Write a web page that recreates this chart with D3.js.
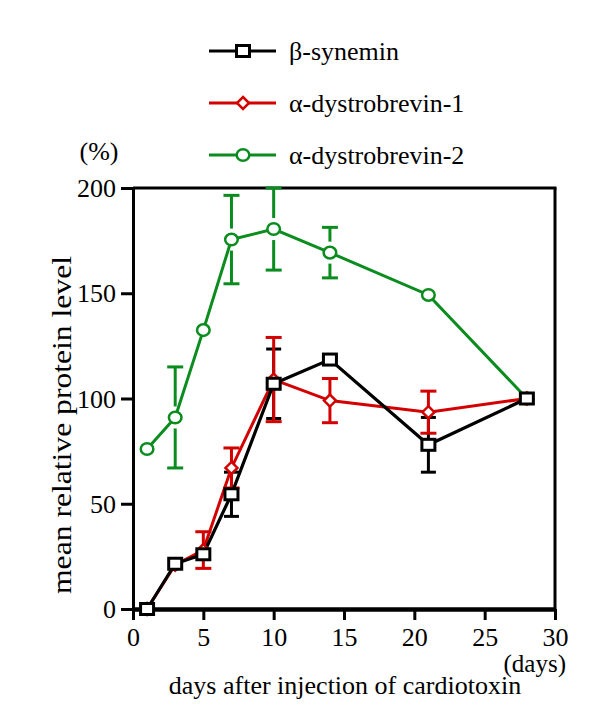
<!DOCTYPE html>
<html>
<head>
<meta charset="utf-8">
<script src="https://cdn.jsdelivr.net/npm/d3@7"></script>
<style>
  html, body { margin: 0; padding: 0; background: #fff; }
  svg { display: block; }
  svg text { font-family: "Liberation Serif", "Times New Roman", serif !important; fill: #000; }
</style>
</head>
<body>
<svg id="chart" width="600" height="717" font-family="'Liberation Serif', serif"></svg>
<script>
// ---- data ----
const days = [1, 3, 5, 7, 10, 14, 21, 28];
const synemin = [0, 21.5, 26, 54.5, 107, 118.5, 78, 100];
const syneminErr = [0, 0, 0, 10.5, 16.5, 0, 13, 0];
const dystro1 = [0, 21, 28, 67, 109, 99, 93.5, 100];
const dystro1Err = [0, 0, 8.7, 9.5, 20, 10.5, 10, 0];
const dystro2 = [76, 91, 132.5, 175.5, 180.5, 169.3, 149.2, 100];
const dystro2Err = [0, 24, 0, 21, 19.5, 12, 0, 0];
const xTicks = [0, 5, 10, 15, 20, 25, 30];
const yTicks = [0, 50, 100, 150, 200];
const seriesNames = ["β-synemin", "α-dystrobrevin-1", "α-dystrobrevin-2"];

const FONT = "'Liberation Serif', 'Times New Roman', serif";
const svg = d3.select("#chart");
const x = d3.scaleLinear().domain([0, 30]).range([133, 555]);
const y = d3.scaleLinear().domain([0, 200]).range([609, 188]);

const black = "#000000", red = "#d40000", green = "#0a8c1e";

// frame (top and right)
svg.append("line").attr("x1", x(0)).attr("x2", x(30) + 1.5).attr("y1", y(200)).attr("y2", y(200))
  .attr("stroke", "#000").attr("stroke-width", 3);
svg.append("line").attr("x1", x(30)).attr("x2", x(30)).attr("y1", y(200)).attr("y2", y(0))
  .attr("stroke", "#000").attr("stroke-width", 3);

// y axis
const yAxis = svg.append("g").attr("transform", `translate(${x(0)},0)`)
  .call(d3.axisLeft(y).tickValues(yTicks).tickSize(12).tickSizeOuter(0).tickPadding(5));
yAxis.attr("font-family", FONT).attr("font-size", 26);
yAxis.select(".domain").attr("stroke-width", 3);
yAxis.selectAll(".tick line").attr("stroke-width", 3);
yAxis.selectAll(".tick text").attr("font-family", FONT).attr("font-size", 26).attr("dy", "0.33em");

// x axis
const xAxis = svg.append("g").attr("transform", `translate(0,${y(0)})`)
  .call(d3.axisBottom(x).tickValues(xTicks).tickSize(11).tickSizeOuter(0).tickPadding(8));
xAxis.attr("font-family", FONT).attr("font-size", 26);
xAxis.select(".domain").attr("stroke-width", 4.5);
xAxis.selectAll(".tick line").attr("stroke-width", 3);
xAxis.selectAll(".tick text").attr("font-family", FONT).attr("font-size", 26);

// labels
function label(xp, yp, anchor, txt, size) {
  return svg.append("text").attr("x", xp).attr("y", yp).attr("text-anchor", anchor)
    .attr("font-family", FONT).attr("font-size", size || 26).text(txt);
}
label(99, 160, "middle", "(%)");
label(566, 672, "end", "(days)", 25);
label(345, 694, "middle", "days after injection of cardiotoxin");
svg.append("text").attr("transform", "translate(71,425) rotate(-90)").attr("text-anchor", "middle")
  .attr("font-family", FONT).attr("font-size", 27)
  .attr("textLength", 338).attr("lengthAdjust", "spacingAndGlyphs")
  .text("mean relative protein level");

// error bars
function errorBars(vals, errs, color, capW, gap) {
  const g = svg.append("g").attr("stroke", color).attr("stroke-width", 3).attr("fill", "none");
  days.forEach((d, i) => {
    if (!errs[i]) return;
    const cx = x(d), cy = y(vals[i]);
    const top = y(vals[i] + errs[i]), bot = y(vals[i] - errs[i]);
    g.append("line").attr("x1", cx).attr("x2", cx).attr("y1", top).attr("y2", cy - gap);
    g.append("line").attr("x1", cx).attr("x2", cx).attr("y1", cy + gap).attr("y2", bot);
    g.append("line").attr("x1", cx - capW / 2).attr("x2", cx + capW / 2).attr("y1", top).attr("y2", top);
    g.append("line").attr("x1", cx - capW / 2).attr("x2", cx + capW / 2).attr("y1", bot).attr("y2", bot);
  });
}
const lineGen = vals => d3.line().x((d, i) => x(days[i])).y((d, i) => y(vals[i]))(vals);

// green series
errorBars(dystro2, dystro2Err, green, 16, 11);
svg.append("path").attr("d", lineGen(dystro2)).attr("fill", "none").attr("stroke", green).attr("stroke-width", 3);
// black & red error bars
errorBars(synemin, syneminErr, black, 15, 0);
errorBars(dystro1, dystro1Err, red, 16, 0);
svg.append("path").attr("d", lineGen(dystro1)).attr("fill", "none").attr("stroke", red).attr("stroke-width", 3);
svg.append("path").attr("d", lineGen(synemin)).attr("fill", "none").attr("stroke", black).attr("stroke-width", 3.2);

// markers
function circleMarker(sel, cx, cy) {
  sel.append("ellipse").attr("cx", cx).attr("cy", cy).attr("rx", 6.3).attr("ry", 5.8)
    .attr("fill", "#fff").attr("stroke", green).attr("stroke-width", 2.5);
}
function diamondMarker(sel, cx, cy) {
  const s = 6;
  sel.append("path").attr("d", `M${cx},${cy - s}L${cx + s},${cy}L${cx},${cy + s}L${cx - s},${cy}Z`)
    .attr("fill", "#fff").attr("stroke", red).attr("stroke-width", 2.5);
}
function squareMarker(sel, cx, cy) {
  sel.append("rect").attr("x", cx - 6.5).attr("y", cy - 5.5).attr("width", 13).attr("height", 11)
    .attr("fill", "#fff").attr("stroke", black).attr("stroke-width", 3);
}
days.forEach((d, i) => circleMarker(svg, x(d), y(dystro2[i])));
days.forEach((d, i) => diamondMarker(svg, x(d), y(dystro1[i])));
days.forEach((d, i) => squareMarker(svg, x(d), y(synemin[i])));

// legend
const legendY = [51, 103, 155];
const legendColors = [black, red, green];
const legendMarkers = [squareMarker, diamondMarker, circleMarker];
seriesNames.forEach((name, i) => {
  const ly = legendY[i];
  svg.append("line").attr("x1", 209).attr("x2", 276).attr("y1", ly).attr("y2", ly)
    .attr("stroke", legendColors[i]).attr("stroke-width", 3);
  legendMarkers[i](svg, 243, ly);
  label(289, ly + 9, "start", name);
});
</script>
</body>
</html>
